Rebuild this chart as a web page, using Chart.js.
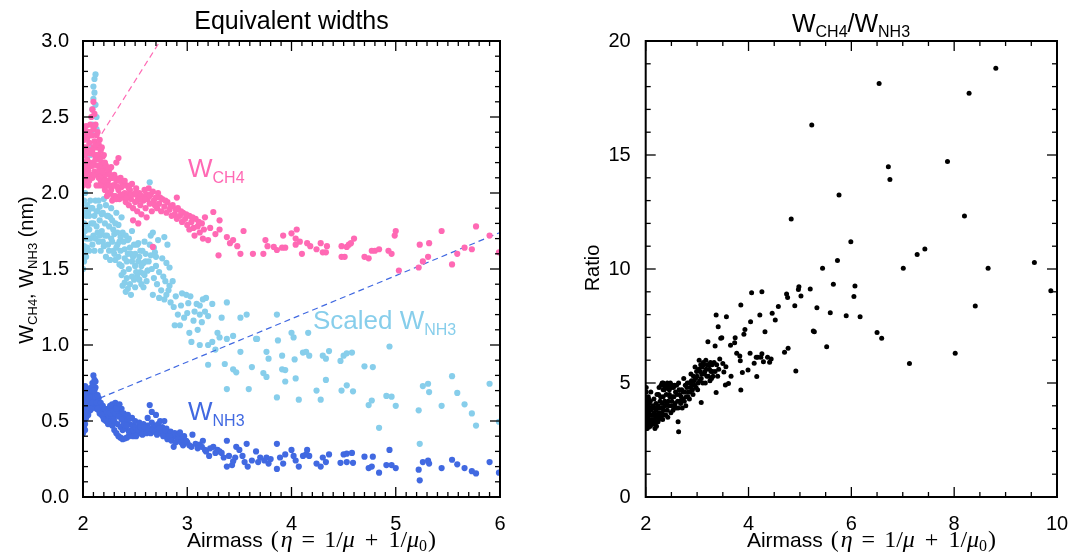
<!DOCTYPE html>
<html>
<head>
<meta charset="utf-8">
<script src="https://cdn.jsdelivr.net/npm/chart.js@4.4.1/dist/chart.umd.min.js"></script>
<style>
  body { margin: 0; background: #fff; }
  #left { position: absolute; left: 0; top: 0; }
  #right { position: absolute; left: 545px; top: 0; }
</style>
</head>
<body>
<canvas id="left" width="545" height="555"></canvas>
<canvas id="right" width="544" height="555"></canvas>
<script>
// ---- data: [airmass, value] ----
const wCH4 = [
  [2.00,2.05],[2.00,2.12],[2.00,2.20],[2.00,2.28],[2.01,2.35],[2.01,2.42],[2.01,2.15],[2.02,2.08],[2.02,2.25],[2.02,2.38],
  [2.03,2.18],[2.03,2.30],[2.03,2.44],[2.04,2.10],[2.04,2.22],[2.04,2.36],[2.05,2.15],[2.05,2.28],[2.05,2.40],[2.06,2.08],
  [2.06,2.20],[2.06,2.33],[2.07,2.12],[2.07,2.26],[2.07,2.45],[2.08,2.18],[2.08,2.38],[2.08,2.50],[2.09,2.10],[2.09,2.28],
  [2.09,2.55],[2.10,2.20],[2.10,2.42],[2.10,2.60],[2.11,2.14],[2.11,2.34],[2.11,2.52],[2.12,2.22],[2.12,2.45],[2.13,2.12],
  [2.13,2.38],[2.14,2.30],[2.14,2.18],[2.15,2.25],[2.15,2.10],[2.16,2.35],[2.16,2.15],[2.17,2.28],[2.17,2.08],[2.18,2.20],
  [2.18,2.12],[2.19,2.05],[2.19,2.24],[2.20,2.10],[2.20,2.17],[2.21,2.02],[2.22,2.12],[2.23,1.98],[2.24,2.08],[2.25,2.15],
  [2.26,2.00],[2.27,2.10],[2.28,1.95],[2.29,2.05],[2.30,2.12],[2.31,1.98],[2.32,2.08],[2.32,2.20],[2.34,2.23],[2.34,2.02],
  [2.35,1.96],[2.36,2.10],[2.37,2.04],[2.38,1.97],[2.39,2.07],[2.40,2.00],[2.41,1.94],[2.42,2.05],[2.43,1.99],[2.44,1.92],
  [2.45,2.02],[2.46,1.96],[2.47,2.06],[2.48,1.90],[2.48,1.82],[2.49,1.99],[2.50,1.94],[2.51,2.03],[2.52,1.88],[2.53,1.97],
  [2.53,1.80],[2.54,2.00],[2.55,1.92],[2.56,1.86],[2.57,1.98],[2.58,1.95],[2.59,2.02],[2.60,1.90],[2.61,1.99],[2.61,1.84],
  [2.62,1.96],[2.63,2.03],[2.64,1.93],[2.65,1.99],[2.66,1.88],[2.67,2.01],[2.67,1.645],[2.68,1.95],[2.70,1.97],[2.71,1.90],
  [2.72,2.00],[2.73,1.93],[2.75,1.88],[2.76,1.96],[2.78,1.91],[2.80,1.87],[2.81,1.94],[2.83,1.89],[2.85,1.85],[2.86,1.92],
  [2.88,1.86],[2.90,1.83],[2.90,1.97],[2.91,1.90],[2.93,1.85],[2.95,1.81],[2.96,1.87],[2.98,1.83],[3.00,1.79],[3.02,1.85],
  [3.04,1.81],[3.06,1.77],[3.08,1.83],[3.10,1.78],[3.12,1.74],[3.14,1.80],[3.16,1.76],[3.17,1.84],[3.20,1.69],[3.25,1.875],
  [3.31,1.82],[3.31,1.76],[3.30,1.59],[3.38,1.71],[3.41,1.67],[3.44,1.69],[3.48,1.65],[3.51,1.60],[3.54,1.75],[3.63,1.60],
  [3.73,1.60],[3.75,1.69],[3.77,1.65],[3.83,1.645],[3.86,1.625],[3.91,1.64],[3.92,1.72],[3.94,1.64],[4.00,1.735],[4.04,1.70],
  [4.05,1.76],[4.04,1.66],[4.08,1.68],[4.10,1.60],[4.15,1.67],[4.18,1.65],[4.24,1.63],[4.28,1.67],[4.30,1.61],[4.33,1.61],
  [4.34,1.65],[4.48,1.65],[4.48,1.58],[4.51,1.58],[4.53,1.645],[4.55,1.66],[4.57,1.67],[4.60,1.70],[4.70,1.58],[4.74,1.57],
  [4.77,1.62],[4.80,1.62],[4.84,1.63],[4.93,1.62],[4.96,1.60],[4.99,1.72],[5.00,1.75],[5.03,1.49],[5.22,1.51],[5.23,1.66],
  [5.26,1.55],[5.31,1.58],[5.32,1.67],[5.44,1.75],[5.54,1.53],[5.59,1.60],[5.66,1.64],[5.73,1.63],[5.77,1.78],[5.90,1.72],
  [5.99,1.61],
  [2.01,2.30],[2.02,2.18],[2.03,2.12],[2.04,2.28],[2.05,2.05],[2.06,2.40],[2.07,2.18],[2.08,2.28],[2.09,2.18],[2.09,2.38],
  [2.10,2.30],[2.10,2.12],[2.11,2.25],[2.11,2.44],[2.12,2.32],[2.13,2.25],[2.14,2.40],[2.15,2.32],[2.16,2.22],[2.17,2.18],
  [2.18,2.30],[2.19,2.14],[2.20,2.25],[2.21,2.08],[2.22,2.18],[2.23,2.05],[2.24,2.15],[2.25,2.05],[2.26,2.12],[2.27,2.02],
  [2.28,2.10],[2.29,1.98],[2.30,2.05],[2.31,2.10],[2.32,1.96],[2.33,2.04],[2.35,2.08],[2.36,1.99],[2.38,2.05],[2.40,2.08],
  [2.42,1.97],[2.44,2.03],[2.46,1.99],[2.50,2.00],[2.52,1.95],[2.56,1.96],[2.60,1.96],[2.64,1.98],[2.69,1.92],[2.74,1.97],
  [2.79,1.95],[2.84,1.91],[2.89,1.89],[2.94,1.88],[2.99,1.86],[3.05,1.84],[3.11,1.81],[3.02,1.76],[3.07,1.72],[3.15,1.70],
  [3.22,1.77],[3.27,1.73],[2.16,2.05],[2.13,2.05],[2.24,2.00],[2.21,2.20],[2.27,2.17]
];

const scaledNH3 = [
  [2.00,1.50],[2.00,1.58],[2.01,1.65],[2.00,1.72],[2.01,1.80],[2.00,1.88],[2.01,1.95],[2.02,2.00],[2.02,1.62],[2.01,1.55],
  [2.03,1.70],[2.03,1.85],[2.04,1.92],[2.04,1.78],[2.05,1.70],[2.06,1.85],[2.07,1.95],[2.07,2.25],[2.08,2.30],[2.08,2.40],
  [2.09,2.45],[2.09,2.55],[2.10,2.62],[2.10,2.70],[2.11,2.75],[2.12,2.78],[2.11,2.66],[2.12,2.58],[2.13,2.42],[2.13,2.50],
  [2.08,1.80],[2.09,1.90],[2.10,1.72],[2.11,1.85],[2.12,1.95],[2.13,1.78],[2.14,1.88],[2.15,1.68],[2.16,1.82],[2.16,1.91],
  [2.18,1.75],[2.19,1.87],[2.20,1.65],[2.21,1.80],[2.22,1.92],[2.23,1.72],[2.24,1.85],[2.25,1.62],[2.26,1.84],[2.27,1.90],
  [2.28,1.68],[2.29,1.76],[2.30,1.60],[2.31,1.56],[2.32,1.87],[2.33,1.66],[2.34,1.79],[2.35,1.53],[2.36,1.71],[2.37,1.84],
  [2.38,1.74],[2.40,1.63],[2.42,1.55],[2.43,1.69],[2.44,1.70],[2.46,1.60],[2.47,1.75],[2.48,1.58],[2.50,1.52],[2.52,1.66],
  [2.53,1.67],[2.54,1.58],[2.55,1.48],[2.57,1.62],[2.58,1.54],[2.59,1.68],[2.60,1.55],[2.62,1.49],[2.64,2.07],[2.64,1.66],
  [2.65,1.72],[2.65,1.59],[2.67,1.74],[2.68,1.64],[2.69,1.61],[2.70,1.52],[2.72,1.69],[2.76,1.57],[2.78,1.71],[2.80,1.54],
  [2.81,1.66],[2.83,1.51],[2.37,1.46],[2.38,1.39],[2.40,1.41],[2.42,1.44],[2.45,1.40],[2.46,1.33],[2.49,1.43],[2.52,1.45],
  [2.56,1.40],[2.59,1.46],[2.62,1.49],[2.67,1.33],[2.73,1.31],[2.79,1.42],[2.80,1.33],[2.83,1.39],[2.87,1.25],[2.88,1.13],
  [2.93,1.13],[2.95,1.34],[2.99,1.33],[3.00,1.21],[3.01,1.275],[3.03,1.32],[3.04,1.02],[3.06,1.16],[3.09,1.27],[3.12,1.26],
  [3.12,1.20],[3.12,1.00],[3.14,1.15],[3.17,1.22],[3.18,1.31],[3.20,1.19],[3.20,1.00],[3.20,0.87],[3.24,1.27],[3.24,1.02],
  [3.29,1.08],[3.31,1.05],[3.36,0.875],[3.38,1.28],[3.38,1.04],[3.38,0.71],[3.44,1.06],[3.44,0.84],[3.47,0.82],[3.51,1.18],
  [3.51,0.955],[3.57,1.20],[3.59,0.71],[3.62,0.855],[3.66,1.04],[3.67,1.04],[3.73,0.815],[3.76,0.955],[3.76,0.79],[3.78,0.91],
  [3.86,1.20],[3.86,0.655],[3.87,1.03],[3.91,0.93],[3.91,0.84],[3.94,0.835],[3.94,0.76],[4.00,1.08],[4.02,1.05],[4.03,0.905],
  [4.04,0.78],[4.07,0.64],[4.11,0.95],[4.14,0.955],[4.16,1.08],[4.17,0.93],[4.24,0.70],[4.28,0.64],[4.30,0.93],[4.33,0.91],
  [4.33,0.77],[4.36,0.96],[4.47,0.895],[4.48,0.70],[4.50,0.93],[4.53,0.945],[4.53,0.735],[4.58,0.95],[4.59,0.695],[4.70,0.86],
  [4.74,0.605],[4.77,0.635],[4.78,0.855],[4.84,0.455],[4.91,0.665],[4.94,0.99],[4.96,0.66],[5.00,0.60],[5.22,0.57],[5.23,0.35],
  [5.26,0.73],[5.31,0.745],[5.32,0.69],[5.44,0.60],[5.54,0.795],[5.59,0.685],[5.66,0.61],[5.73,0.55],[5.77,0.47],[5.90,0.745],
  [5.99,0.495],
  [2.02,1.75],[2.03,1.58],[2.04,1.64],[2.05,1.88],[2.06,1.76],[2.06,1.62],[2.07,1.70],[2.08,1.90],[2.09,1.66],[2.10,1.80],
  [2.11,1.62],[2.12,1.70],[2.13,1.88],[2.14,1.74],[2.15,1.95],[2.16,1.72],[2.17,1.62],[2.18,1.86],[2.19,1.68],[2.20,1.96],
  [2.21,1.72],[2.22,1.58],[2.23,1.85],[2.24,1.66],[2.25,1.78],[2.26,1.56],[2.27,1.70],[2.28,1.82],[2.29,1.62],[2.30,1.73],
  [2.31,1.80],[2.32,1.64],[2.33,1.74],[2.34,1.58],[2.35,1.68],[2.36,1.62],[2.37,1.52],[2.39,1.68],[2.40,1.57],[2.41,1.72],
  [2.43,1.60],[2.44,1.50],[2.45,1.64],[2.47,1.55],[2.49,1.66],[2.50,1.60],[2.51,1.48],[2.53,1.55],[2.55,1.62],[2.56,1.52],
  [2.58,1.47],[2.60,1.60],[2.61,1.42],[2.63,1.55],[2.66,1.50],[2.68,1.44],[2.70,1.58],[2.71,1.40],[2.73,1.48],[2.75,1.36],
  [2.77,1.45],[2.78,1.30],[2.82,1.36],[2.84,1.28],[2.86,1.42],[2.89,1.32],[2.91,1.20],[2.94,1.26],[2.97,1.18],[3.02,1.08],
  [3.07,1.22],[3.10,1.10],[3.15,1.30],[3.27,0.97],[3.33,1.18],[2.39,1.48],[2.43,1.37],[2.47,1.45],[2.50,1.38],[2.54,1.43],
  [2.41,1.35],[2.58,1.38]
];

const wNH3 = [
  [2.00,0.42],[2.00,0.50],[2.00,0.58],[2.00,0.66],[2.01,0.46],[2.01,0.54],[2.01,0.62],[2.01,0.70],[2.02,0.48],[2.02,0.57],
  [2.02,0.65],[2.02,0.73],[2.03,0.52],[2.03,0.60],[2.03,0.68],[2.04,0.55],[2.04,0.63],[2.04,0.71],[2.05,0.58],[2.05,0.66],
  [2.06,0.61],[2.06,0.69],[2.07,0.57],[2.07,0.64],[2.08,0.62],[2.08,0.72],[2.09,0.66],[2.09,0.75],[2.10,0.70],[2.10,0.80],
  [2.11,0.77],[2.11,0.64],[2.12,0.72],[2.12,0.60],[2.13,0.67],[2.13,0.58],[2.14,0.62],[2.15,0.57],[2.15,0.65],[2.16,0.60],
  [2.17,0.55],[2.18,0.58],[2.19,0.53],[2.20,0.56],[2.21,0.52],[2.22,0.55],[2.23,0.51],[2.24,0.58],[2.25,0.53],[2.26,0.50],
  [2.27,0.56],[2.28,0.61],[2.29,0.52],[2.30,0.59],[2.31,0.62],[2.32,0.55],[2.33,0.60],[2.34,0.57],[2.35,0.61],[2.36,0.54],
  [2.37,0.58],[2.38,0.51],[2.39,0.55],[2.40,0.52],[2.42,0.50],[2.43,0.54],[2.45,0.48],[2.47,0.52],[2.48,0.47],[2.50,0.50],
  [2.52,0.46],[2.54,0.49],[2.56,0.45],[2.58,0.48],[2.60,0.44],[2.62,0.47],[2.62,0.52],[2.64,0.45],[2.64,0.605],[2.66,0.49],
  [2.66,0.56],[2.68,0.47],[2.70,0.46],[2.70,0.54],[2.72,0.48],[2.74,0.44],[2.74,0.50],[2.76,0.46],[2.78,0.43],[2.78,0.50],
  [2.80,0.45],[2.82,0.41],[2.84,0.43],[2.86,0.40],[2.88,0.42],[2.90,0.39],[2.92,0.41],[2.95,0.38],[2.97,0.40],[2.28,0.47],
  [2.30,0.44],[2.32,0.42],[2.34,0.40],[2.36,0.39],[2.38,0.38],[2.40,0.385],[2.42,0.39],[2.44,0.40],[2.46,0.41],[2.48,0.40],
  [2.50,0.42],[2.52,0.43],[2.55,0.42],[2.58,0.43],[2.87,0.33],[2.93,0.425],[2.99,0.37],[3.04,0.33],[3.05,0.41],[3.12,0.345],
  [3.15,0.37],[3.18,0.30],[3.21,0.27],[3.25,0.33],[3.29,0.31],[3.31,0.30],[3.38,0.37],[3.38,0.20],[3.43,0.21],[3.44,0.235],
  [3.47,0.33],[3.50,0.31],[3.57,0.35],[3.58,0.20],[3.62,0.24],[3.66,0.30],[3.74,0.24],[3.76,0.26],[3.78,0.22],[3.86,0.35],
  [3.86,0.185],[3.89,0.26],[3.92,0.22],[3.94,0.28],[4.00,0.31],[4.02,0.27],[4.04,0.24],[4.07,0.20],[4.11,0.27],[4.14,0.28],
  [4.15,0.31],[4.17,0.27],[4.24,0.22],[4.28,0.20],[4.30,0.26],[4.33,0.23],[4.36,0.28],[4.47,0.225],[4.50,0.28],[4.53,0.23],
  [4.53,0.285],[4.58,0.29],[4.59,0.225],[4.70,0.265],[4.74,0.19],[4.77,0.20],[4.78,0.265],[4.84,0.16],[4.91,0.21],[4.94,0.31],
  [4.96,0.21],[5.00,0.19],[5.22,0.18],[5.23,0.11],[5.26,0.23],[5.31,0.24],[5.32,0.22],[5.44,0.19],[5.54,0.245],[5.59,0.215],
  [5.66,0.19],[5.73,0.17],[5.77,0.155],[5.90,0.23],[5.99,0.16],
  [2.00,0.46],[2.00,0.54],[2.00,0.62],[2.01,0.50],[2.01,0.58],[2.01,0.66],[2.02,0.44],[2.02,0.53],[2.02,0.61],[2.02,0.69],
  [2.03,0.56],[2.03,0.64],[2.03,0.72],[2.04,0.59],[2.04,0.67],[2.05,0.62],[2.05,0.54],[2.05,0.70],[2.06,0.57],[2.06,0.65],
  [2.07,0.60],[2.07,0.68],[2.08,0.66],[2.08,0.58],[2.09,0.62],[2.09,0.70],[2.10,0.66],[2.10,0.74],[2.11,0.70],[2.12,0.66],
  [2.12,0.76],[2.13,0.62],[2.14,0.58],[2.14,0.67],[2.16,0.55],[2.17,0.62],[2.18,0.54],[2.19,0.60],[2.20,0.51],[2.21,0.58],
  [2.22,0.50],[2.23,0.56],[2.24,0.48],[2.25,0.57],[2.26,0.55],[2.27,0.48],[2.29,0.57],[2.30,0.50],[2.31,0.55],[2.33,0.48],
  [2.34,0.53],[2.36,0.46],[2.37,0.51],[2.38,0.44],[2.39,0.48],[2.41,0.45],[2.42,0.47],[2.44,0.43],[2.45,0.52],[2.46,0.44],
  [2.48,0.44],[2.50,0.46],[2.51,0.40],[2.53,0.44],[2.55,0.46],[2.57,0.41],[2.59,0.46],[2.61,0.42],[2.63,0.44],[2.65,0.42],
  [2.67,0.44],[2.69,0.43],[2.71,0.41],[2.73,0.45],[2.75,0.42],[2.77,0.40],[2.79,0.44],[2.81,0.38],[2.83,0.40],[2.85,0.37],
  [2.89,0.36],[2.91,0.38],[2.94,0.36],[2.96,0.34],[3.00,0.36],[3.02,0.34],[3.08,0.35],[3.10,0.32],[3.14,0.33],[3.17,0.31],
  [3.22,0.32],[3.27,0.29],[3.33,0.29],[3.35,0.26],[3.40,0.27],[3.46,0.26],[3.53,0.27],[3.55,0.23],[3.68,0.23],[3.70,0.26],
  [3.80,0.25],[2.26,0.60],[2.32,0.58]
];

// dashed guide lines
const ch4Line = [[2.18,2.39],[2.74,3.00]];
const nh3Line = [[2.16,0.65],[6.00,1.74]];

const ratio = [
  [2.00,3.2],[2.00,3.6],[2.00,4.0],[2.00,4.4],[2.01,4.8],[2.01,3.4],[2.02,3.8],[2.02,4.2],[2.03,3.0],[2.04,3.5],
  [2.05,3.9],[2.06,3.3],[2.07,4.1],[2.08,3.6],[2.09,3.1],[2.10,3.8],[2.12,3.4],[2.14,4.0],[2.15,3.2],[2.17,3.7],
  [2.18,3.0],[2.20,3.5],[2.22,3.9],[2.24,3.3],[2.26,3.7],[2.28,4.2],[2.30,3.5],[2.32,3.9],[2.34,4.4],[2.36,3.6],
  [2.38,4.0],[2.40,4.5],[2.42,3.8],[2.44,4.2],[2.46,4.7],[2.48,4.9],[2.50,4.0],[2.52,4.4],[2.54,4.8],[2.56,4.0],
  [2.58,4.6],[2.60,4.9],[2.62,4.2],[2.64,5.0],[2.66,4.5],[2.68,4.1],[2.70,4.7],[2.72,4.3],[2.74,5.2],[2.76,4.6],
  [2.78,4.0],[2.80,4.8],[2.82,4.4],[2.84,5.0],[2.86,4.6],[2.88,5.4],[2.90,4.9],[2.92,4.5],[2.94,5.1],[2.96,5.7],
  [2.98,4.8],[3.00,5.3],[3.02,5.0],[3.04,6.0],[3.06,5.5],[3.08,5.2],[3.10,5.7],[3.12,5.9],[3.14,5.4],[3.16,5.0],
  [3.18,5.6],[3.20,5.8],[3.22,5.3],[3.24,5.6],[3.26,5.9],[3.28,5.2],[3.30,5.5],[2.30,4.9],[2.34,5.0],[2.38,4.8],
  [2.42,5.0],[2.46,4.95],[2.36,4.7],[2.44,4.75],[2.52,4.9],[2.10,4.6],[2.06,4.3],[2.16,4.3],[2.20,4.1],[2.25,4.5],
  [2.63,3.30],[2.64,2.86],[3.08,4.14],[3.37,4.58],[3.85,4.69],[3.21,6.81],[3.35,6.62],[3.37,7.98],[3.41,7.47],[3.46,6.96],
  [3.48,6.99],[3.44,6.05],[3.50,5.86],[3.52,5.48],[3.55,4.91],[3.56,5.71],[3.57,7.91],[3.61,4.98],[3.65,6.66],[3.66,5.30],
  [3.73,6.77],[3.74,6.99],[3.77,6.30],[3.83,6.18],[3.84,5.98],[3.85,8.42],[3.88,5.46],[3.91,7.14],[3.93,7.35],[3.99,5.57],
  [4.03,6.30],[4.04,7.69],[4.06,8.96],[4.11,5.87],[4.15,6.13],[4.16,5.28],[4.18,6.13],[4.22,7.98],[4.24,6.13],[4.26,6.28],
  [4.26,9.00],[4.29,5.93],[4.32,7.25],[4.37,6.13],[4.41,5.91],[4.44,6.05],[4.46,8.06],[4.52,7.76],[4.58,8.35],[4.70,6.35],
  [4.74,8.90],[4.76,8.75],[4.77,6.52],[4.83,12.19],[4.90,8.39],[4.92,5.53],[4.97,9.10],[4.98,9.22],[5.02,8.82],[5.20,9.12],
  [5.23,16.32],[5.26,7.28],[5.28,7.25],[5.33,8.30],[5.44,10.03],[5.52,6.59],[5.59,8.08],[5.65,9.33],[5.73,10.37],[5.76,13.25],
  [5.90,7.95],[5.99,11.20],[6.05,8.79],[6.07,9.25],[6.17,7.91],[6.50,7.21],[6.54,18.14],[6.59,6.96],[6.72,14.49],[6.75,13.93],
  [7.01,10.03],[7.13,5.86],[7.28,10.64],[7.43,10.88],[7.87,14.71],[8.02,6.30],[8.20,12.32],[8.29,17.71],[8.41,8.38],[8.66,10.03],
  [8.81,18.80],[9.56,10.28],[9.88,9.05],
  [2.00,3.4],[2.00,3.8],[2.00,4.2],[2.01,3.0],[2.01,4.6],[2.02,3.6],[2.03,4.0],[2.03,3.3],[2.04,3.8],[2.05,3.1],
  [2.05,4.4],[2.06,3.7],[2.07,3.4],[2.08,3.9],[2.09,4.2],[2.10,3.3],[2.11,3.6],[2.12,3.9],[2.13,3.2],[2.14,3.6],
  [2.16,3.4],[2.17,3.9],[2.19,3.3],[2.20,3.8],[2.21,3.1],[2.23,3.6],[2.24,4.0],[2.25,3.4],[2.27,3.9],[2.28,3.5],
  [2.29,4.4],[2.31,3.7],[2.32,4.1],[2.33,3.4],[2.35,3.8],[2.37,4.2],[2.39,3.6],[2.41,4.1],[2.43,3.5],[2.45,4.0],
  [2.47,4.4],[2.49,3.7],[2.51,4.2],[2.53,3.8],[2.55,4.4],[2.57,4.1],[2.59,3.9],[2.61,4.5],[2.63,3.9],[2.65,4.7],
  [2.67,4.2],[2.69,4.4],[2.71,3.9],[2.73,4.6],[2.75,4.2],[2.77,4.9],[2.79,4.4],[2.81,5.0],[2.83,4.6],[2.85,4.3],
  [2.87,4.8],[2.89,5.1],[2.91,4.7],[2.93,5.3],[2.95,4.9],[2.97,5.2],[2.99,5.5],[3.01,4.7],[3.03,5.6],[3.05,5.1],
  [3.07,5.8],[3.09,5.4],[3.11,5.0],[3.13,5.8],[3.15,5.5],[3.17,6.0],[3.19,5.3],[3.23,5.8],[3.25,5.1],[3.27,5.5],
  [3.29,5.8],[3.31,5.3],[3.33,5.9],[3.35,5.5],[3.38,5.8],[3.40,5.3],[3.42,5.6],[2.32,5.0],[2.36,4.9],[2.40,4.95],
  [2.44,4.9],[2.48,5.0],[2.50,4.8],[2.56,4.9],[2.34,4.7],[2.46,4.5],[2.26,4.8],[2.22,4.5]
];

const pink = '#ff69b4';
const sky = '#87ceeb';
const royal = '#4169e1';
const SANS = '"Liberation Sans", Arial, sans-serif';
const SERIF = '"Liberation Serif", "DejaVu Serif", serif';

const toPts = arr => arr.map(p => ({x: p[0], y: p[1]}));

// rich text with subscripts; parts: {text, font, dy, gap, color}
function drawRich(ctx, parts, x, y, opt) {
  ctx.save();
  ctx.translate(x, y);
  if (opt.rotate) ctx.rotate(opt.rotate);
  ctx.textAlign = 'left';
  ctx.textBaseline = 'alphabetic';
  let total = 0;
  parts.forEach(p => { ctx.font = p.font; total += (p.gap || 0) + ctx.measureText(p.text).width; });
  let cx = opt.align === 'center' ? -total / 2 : 0;
  parts.forEach(p => {
    ctx.font = p.font;
    ctx.fillStyle = p.color || opt.color || '#000';
    cx += p.gap || 0;
    ctx.fillText(p.text, cx, p.dy || 0);
    cx += ctx.measureText(p.text).width;
  });
  ctx.restore();
}

function airmassLabel() {
  return [
    {text: 'Airmass', font: '21px ' + SANS},
    {text: '(', font: '24px ' + SERIF, gap: 8},
    {text: 'η', font: 'italic 24px ' + SERIF, gap: 2},
    {text: '=', font: '24px ' + SERIF, gap: 9},
    {text: '1/', font: '24px ' + SERIF, gap: 9},
    {text: 'μ', font: 'italic 24px ' + SERIF},
    {text: '+', font: '24px ' + SERIF, gap: 10},
    {text: '1/', font: '24px ' + SERIF, gap: 10},
    {text: 'μ', font: 'italic 24px ' + SERIF},
    {text: '0', font: '16px ' + SERIF, dy: 4},
    {text: ')', font: '24px ' + SERIF, gap: 1}
  ];
}

// box frame with inward major/minor ticks on all four sides
const frameTicks = {
  id: 'frameTicks',
  afterDatasetsDraw(chart, args, o) {
    const {ctx, chartArea: a, scales: {x, y}} = chart;
    ctx.save();
    ctx.strokeStyle = '#000';
    ctx.lineWidth = 1.3;
    const seg = (x1, y1, x2, y2) => { ctx.beginPath(); ctx.moveTo(x1, y1); ctx.lineTo(x2, y2); ctx.stroke(); };
    const nx = Math.round((x.max - x.min) / o.xMinor);
    const per = Math.round(o.xMajor / o.xMinor);
    for (let i = 0; i <= nx; i++) {
      const px = x.getPixelForValue(x.min + i * o.xMinor);
      const len = i % per === 0 ? 10 : 5;
      seg(px, a.bottom, px, a.bottom - len);
      seg(px, a.top, px, a.top + len);
    }
    const ny = Math.round((y.max - y.min) / o.yMinor);
    const pery = Math.round(o.yMajor / o.yMinor);
    for (let i = 0; i <= ny; i++) {
      const py = y.getPixelForValue(y.min + i * o.yMinor);
      const len = i % pery === 0 ? 10 : 5;
      seg(a.left, py, a.left + len, py);
      seg(a.right, py, a.right - len, py);
    }
    ctx.lineWidth = 2;
    ctx.strokeRect(a.left, a.top, a.right - a.left, a.bottom - a.top);
    ctx.restore();
  }
};

const labelsPlugin = {
  id: 'labels',
  afterDraw(chart, args, o) {
    o.items.forEach(it => drawRich(chart.ctx, it.parts, it.x, it.y, it));
  }
};

function axis(min, max, step, fmt, pad, fit) {
  return {
    type: 'linear', min: min, max: max,
    grid: {display: false}, border: {display: false},
    ticks: {stepSize: step, padding: pad, color: '#000', font: {family: SANS, size: 20}, callback: fmt},
    afterFit: fit
  };
}

// ---- left: equivalent widths ----
new Chart(document.getElementById('left'), {
  type: 'scatter',
  data: {
    datasets: [
      {data: toPts(wNH3), backgroundColor: royal, pointRadius: 3.1, pointBorderWidth: 0},
      {data: toPts(wCH4), backgroundColor: pink, pointRadius: 3.1, pointBorderWidth: 0},
      {data: toPts(ch4Line), showLine: true, borderColor: pink, borderWidth: 1.2, borderDash: [6, 4], pointRadius: 0},
      {data: toPts(nh3Line), showLine: true, borderColor: royal, borderWidth: 1.2, borderDash: [6, 4], pointRadius: 0},
      {data: toPts(scaledNH3), backgroundColor: sky, pointRadius: 3.1, pointBorderWidth: 0}
    ]
  },
  options: {
    responsive: false,
    animation: false,
    devicePixelRatio: 1,
    layout: {padding: {top: 41, right: 45, left: 0, bottom: 0}},
    scales: {
      x: axis(2, 6, 1, v => v, 7, s => { s.height = 58; }),
      y: axis(0, 3, 0.5, v => v.toFixed(1), 6, s => { s.width = 83; })
    },
    plugins: {
      legend: {display: false},
      tooltip: {enabled: false},
      frameTicks: {xMinor: 0.1, xMajor: 1, yMinor: 0.1, yMajor: 0.5},
      labels: {items: [
        {x: 291.5, y: 29, align: 'center', parts: [{text: 'Equivalent widths', font: '25px ' + SANS}]},
        {x: 311.5, y: 547, align: 'center', parts: airmassLabel()},
        {x: 33, y: 270, align: 'center', rotate: -Math.PI / 2, parts: [
          {text: 'W', font: '20px ' + SANS},
          {text: 'CH4', font: '13px ' + SANS, dy: 4},
          {text: ', ', font: '20px ' + SANS},
          {text: 'W', font: '20px ' + SANS},
          {text: 'NH3', font: '13px ' + SANS, dy: 4},
          {text: ' (nm)', font: '20px ' + SANS}
        ]},
        {x: 188, y: 177, color: pink, parts: [
          {text: 'W', font: '26px ' + SANS}, {text: 'CH4', font: '16px ' + SANS, dy: 6}]},
        {x: 313, y: 329, color: sky, parts: [
          {text: 'Scaled W', font: '26px ' + SANS}, {text: 'NH3', font: '16px ' + SANS, dy: 6}]},
        {x: 188, y: 420, color: royal, parts: [
          {text: 'W', font: '26px ' + SANS}, {text: 'NH3', font: '16px ' + SANS, dy: 6}]}
      ]}
    }
  },
  plugins: [frameTicks, labelsPlugin]
});

// ---- right: ratio ----
new Chart(document.getElementById('right'), {
  type: 'scatter',
  data: {
    datasets: [
      {data: toPts(ratio), backgroundColor: '#000', pointRadius: 2.5, pointBorderWidth: 0}
    ]
  },
  options: {
    responsive: false,
    animation: false,
    devicePixelRatio: 1,
    layout: {padding: {top: 41, right: 32, left: 0, bottom: 0}},
    scales: {
      x: axis(2, 10, 2, v => v, 7, s => { s.height = 58; }),
      y: axis(0, 20, 5, v => v, 7, s => { s.width = 100.7; })
    },
    plugins: {
      legend: {display: false},
      tooltip: {enabled: false},
      frameTicks: {xMinor: 0.5, xMajor: 2, yMinor: 1, yMajor: 5},
      labels: {items: [
        {x: 306, y: 32, align: 'center', parts: [
          {text: 'W', font: '25px ' + SANS},
          {text: 'CH4', font: '16px ' + SANS, dy: 5},
          {text: '/', font: '25px ' + SANS},
          {text: 'W', font: '25px ' + SANS},
          {text: 'NH3', font: '16px ' + SANS, dy: 5}
        ]},
        {x: 326.5, y: 547, align: 'center', parts: airmassLabel()},
        {x: 54, y: 268, align: 'center', rotate: -Math.PI / 2, parts: [{text: 'Ratio', font: '20px ' + SANS}]}
      ]}
    }
  },
  plugins: [frameTicks, labelsPlugin]
});
</script>
</body>
</html>
